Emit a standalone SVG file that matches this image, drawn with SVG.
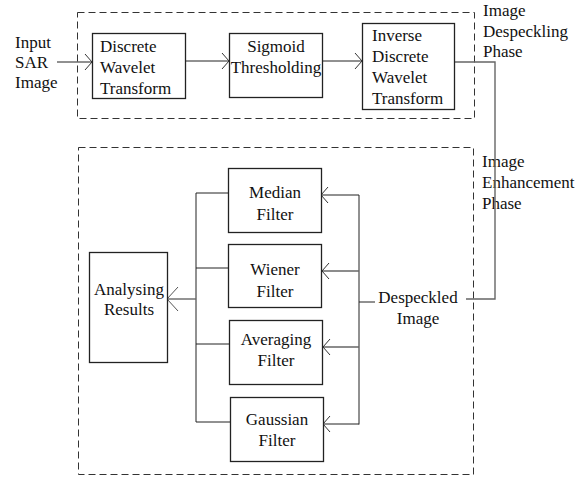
<svg xmlns="http://www.w3.org/2000/svg" width="580" height="477" viewBox="0 0 580 477">
  <style>
    .box { fill: #ffffff; stroke: #222222; stroke-width: 1.3; }
    .phase { fill: none; stroke: #333333; stroke-width: 1; stroke-dasharray: 7 4; }
    .line { fill: none; stroke: #222222; stroke-width: 1; }
    .gline { fill: none; stroke: #666666; stroke-width: 1.4; }
    text { font-family: "Liberation Serif", "Times New Roman", serif; font-size: 17px; fill: #111111; }
    .c { text-anchor: middle; }
  </style>
  <defs>
    <marker id="chev" markerUnits="userSpaceOnUse" markerWidth="20" markerHeight="20" refX="0" refY="0" viewBox="-10 -10 20 20" orient="auto" overflow="visible">
      <path d="M -7 -8 L 0 0 L -7 8" fill="none" stroke="#333333" stroke-width="1"/>
    </marker>
    <marker id="chevBig" markerUnits="userSpaceOnUse" markerWidth="30" markerHeight="30" refX="0" refY="0" viewBox="-15 -15 30 30" orient="auto" overflow="visible">
      <path d="M -11 -12 L 0 0 L -11 12" fill="none" stroke="#555555" stroke-width="1"/>
    </marker>
  </defs>

  <!-- dashed phase frames with their captions -->
  <g id="despeckling-phase">
    <rect class="phase" x="77.5" y="12.5" width="397" height="106"/>
    <text x="483" y="16">Image</text>
    <text x="483" y="37">Despeckling</text>
    <text x="483" y="57">Phase</text>
  </g>
  <g id="enhancement-phase">
    <rect class="phase" x="78.5" y="147.5" width="395" height="327"/>
    <text x="482" y="167">Image</text>
    <text x="482" y="188">Enhancement</text>
    <text x="482" y="209">Phase</text>
  </g>

  <!-- connectors -->
  <g id="connectors">
    <line class="line" x1="57" y1="62" x2="92" y2="62" marker-end="url(#chev)"/>
    <line class="line" x1="185" y1="61" x2="229" y2="61" marker-end="url(#chev)"/>
    <line class="line" x1="322" y1="61" x2="362" y2="61" marker-end="url(#chev)"/>
    <polyline class="gline" points="454,62 495,62 495,299 466,299"/>
    <line class="line" x1="375" y1="302" x2="359" y2="302"/>
    <line class="line" x1="359" y1="195" x2="359" y2="424.5"/>
    <line class="line" x1="359" y1="195" x2="321" y2="195" marker-end="url(#chev)"/>
    <line class="gline" x1="359" y1="271" x2="322" y2="271" marker-end="url(#chev)"/>
    <line class="gline" x1="359" y1="347" x2="323" y2="347" marker-end="url(#chev)"/>
    <line class="line" x1="359" y1="424" x2="323" y2="424" marker-end="url(#chev)"/>
    <line class="line" x1="196" y1="193" x2="196" y2="422"/>
    <line class="line" x1="228" y1="193" x2="196" y2="193"/>
    <line class="line" x1="228" y1="268" x2="196" y2="268"/>
    <line class="line" x1="229" y1="344" x2="196" y2="344"/>
    <line class="line" x1="230" y1="422" x2="196" y2="422"/>
    <line class="gline" x1="196" y1="299" x2="167" y2="299" marker-end="url(#chevBig)"/>
  </g>

  <!-- nodes -->
  <g id="input">
    <text x="15" y="48">Input</text>
    <text x="15" y="68">SAR</text>
    <text x="15" y="88">Image</text>
  </g>
  <g id="dwt">
    <rect class="box" x="92.5" y="33.5" width="93" height="65"/>
    <text x="100" y="52">Discrete</text>
    <text x="100" y="73">Wavelet</text>
    <text x="100" y="94">Transform</text>
  </g>
  <g id="sigmoid">
    <rect class="box" x="229.5" y="33.5" width="93" height="64"/>
    <text class="c" x="276" y="52">Sigmoid</text>
    <text class="c" x="276" y="73">Thresholding</text>
  </g>
  <g id="idwt">
    <rect class="box" x="362.5" y="23.5" width="92" height="86"/>
    <text x="372" y="41">Inverse</text>
    <text x="372" y="62">Discrete</text>
    <text x="372" y="83">Wavelet</text>
    <text x="372" y="104">Transform</text>
  </g>
  <g id="despeckled-image">
    <text class="c" x="418" y="303">Despeckled</text>
    <text class="c" x="418" y="324">Image</text>
  </g>
  <g id="median">
    <rect class="box" x="228.5" y="168.5" width="93" height="64"/>
    <text class="c" x="275" y="198">Median</text>
    <text class="c" x="275" y="220">Filter</text>
  </g>
  <g id="wiener">
    <rect class="box" x="228.5" y="244.5" width="93" height="63"/>
    <text class="c" x="275" y="275">Wiener</text>
    <text class="c" x="275" y="297">Filter</text>
  </g>
  <g id="averaging">
    <rect class="box" x="229.5" y="320.5" width="93" height="64"/>
    <text class="c" x="276" y="345">Averaging</text>
    <text class="c" x="276" y="366">Filter</text>
  </g>
  <g id="gaussian">
    <rect class="box" x="230.5" y="397.5" width="93" height="64"/>
    <text class="c" x="277" y="425">Gaussian</text>
    <text class="c" x="277" y="446">Filter</text>
  </g>
  <g id="analysing">
    <rect class="box" x="89.5" y="252.5" width="78" height="110"/>
    <text class="c" x="129" y="295">Analysing</text>
    <text class="c" x="129" y="315">Results</text>
  </g>
</svg>
